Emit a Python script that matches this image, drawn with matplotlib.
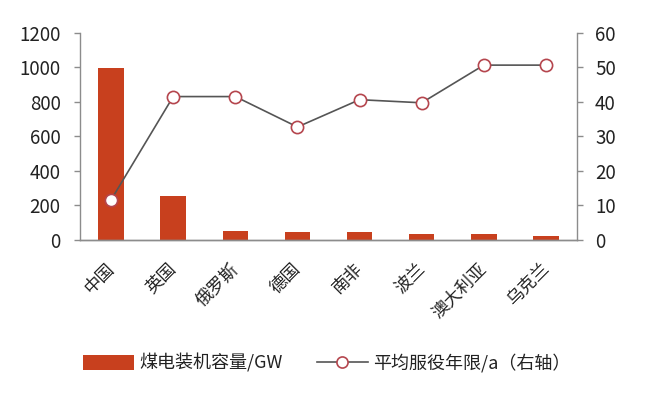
import matplotlib
matplotlib.use("Agg")
import matplotlib.pyplot as plt
from matplotlib.patches import Patch
from matplotlib.lines import Line2D
from matplotlib.transforms import ScaledTranslation

plt.rcParams['font.family'] = ['Noto Sans CJK SC', 'DejaVu Sans']

countries = ['中国', '英国', '俄罗斯', '德国', '南非', '波兰', '澳大利亚', '乌克兰']
capacity_gw = [993, 252, 54, 45, 45, 34, 33, 26]
avg_age = [11.6, 41.5, 41.5, 32.7, 40.6, 39.7, 50.6, 50.6]

bar_color = '#C8401E'
marker_edge = '#B5464E'
line_color = '#555555'
spine_color = '#8C8C8C'
text_color = '#222222'

fig = plt.figure(figsize=(6.59, 3.98), dpi=100)
ax = fig.add_axes([0.1214, 0.397, 0.7542, 0.521])
ax2 = ax.twinx()

x = list(range(len(countries)))
ax.bar(x, capacity_gw, width=0.41, color=bar_color, zorder=2)
ax2.plot(x, avg_age, color=line_color, lw=1.2, marker='o', markersize=8.8,
         markerfacecolor='white', markeredgecolor=marker_edge, markeredgewidth=1.2, zorder=3)

ax.set_xlim(-0.5, len(countries) - 0.5)
ax.set_ylim(0, 1200)
ax.set_yticks(range(0, 1201, 200))
ax2.set_ylim(0, 60)
ax2.set_yticks(range(0, 61, 10))

for a in (ax, ax2):
    for s in a.spines.values():
        s.set_color(spine_color)
        s.set_linewidth(1.0)
    a.spines['top'].set_visible(False)
ax.spines['right'].set_visible(False)
ax2.spines['left'].set_visible(False)
ax.tick_params(axis='y', colors=spine_color, labelcolor=text_color, labelsize=13.5,
               length=4, width=1.0, pad=10)
ax2.tick_params(axis='y', colors=spine_color, labelcolor=text_color, labelsize=13.5,
                length=4.5, width=1.0, pad=8.5)

ax.set_xticks(x)
ax.set_xticklabels(countries, rotation=45, ha='right', va='top', rotation_mode='anchor',
                   fontsize=12.5, color=text_color)
ax.tick_params(axis='x', length=0, pad=10)
offset = ScaledTranslation(-6 / 100, -6 / 100, fig.dpi_scale_trans)
for lbl in ax.get_xticklabels():
    lbl.set_transform(lbl.get_transform() + offset)

handles = [Patch(facecolor=bar_color, edgecolor='none'),
           Line2D([0], [0], color=line_color, lw=1.2, marker='o', markersize=8,
                  markerfacecolor='white', markeredgecolor=marker_edge, markeredgewidth=1.2)]
labels = ['煤电装机容量/GW', '平均服役年限/a（右轴）']
leg = fig.legend(handles, labels, loc='center', bbox_to_anchor=(0.496, 0.088), ncol=2,
                 frameon=False, fontsize=13, handlelength=2.8, handleheight=0.9,
                 handletextpad=0.3, columnspacing=1.9)
for t in leg.get_texts():
    t.set_color(text_color)

fig.savefig('out.png', dpi=100)
